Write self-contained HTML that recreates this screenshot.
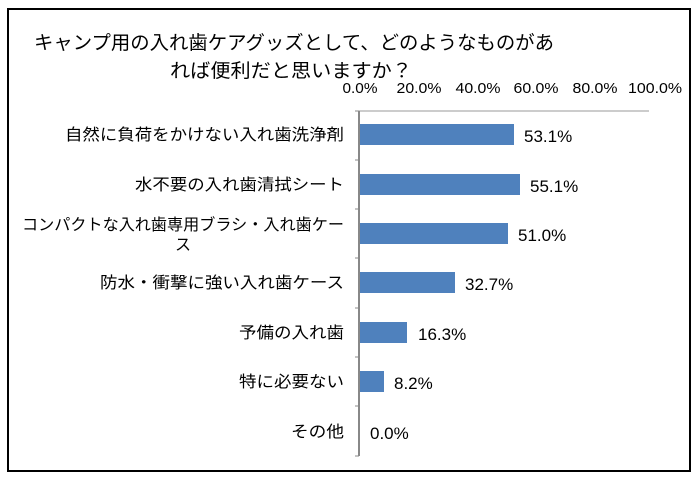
<!DOCTYPE html>
<html><head><meta charset="utf-8"><style>
body{margin:0;background:#fff;}
svg text{font-family:"Liberation Sans","Noto Sans CJK JP",sans-serif;fill:#000;}
</style></head><body>
<svg width="700" height="479" xmlns="http://www.w3.org/2000/svg">
<rect x="8" y="9" width="682" height="462" fill="#fff" stroke="#000" stroke-width="2"/>
<text x="34" y="49" font-size="19" textLength="520" lengthAdjust="spacingAndGlyphs">キャンプ用の入れ歯ケアグッズとして、どのようなものがあ</text>
<text x="170" y="77" font-size="19" textLength="242" lengthAdjust="spacingAndGlyphs">れば便利だと思いますか？</text>
<g font-size="15" text-anchor="middle">
<text x="360" y="93" textLength="35" lengthAdjust="spacingAndGlyphs">0.0%</text>
<text x="419" y="93" textLength="45" lengthAdjust="spacingAndGlyphs">20.0%</text>
<text x="478" y="93" textLength="45" lengthAdjust="spacingAndGlyphs">40.0%</text>
<text x="536" y="93" textLength="45" lengthAdjust="spacingAndGlyphs">60.0%</text>
<text x="595" y="93" textLength="45" lengthAdjust="spacingAndGlyphs">80.0%</text>
<text x="655" y="93" textLength="54" lengthAdjust="spacingAndGlyphs">100.0%</text>
</g>
<line x1="359" y1="111" x2="649" y2="111" stroke="#999" stroke-width="1"/>
<line x1="359" y1="111" x2="359" y2="456" stroke="#888" stroke-width="2"/>
<g stroke="#888" stroke-width="1">
<line x1="355" y1="111" x2="359" y2="111"/><line x1="355" y1="160" x2="359" y2="160"/><line x1="355" y1="209" x2="359" y2="209"/><line x1="355" y1="258" x2="359" y2="258"/><line x1="355" y1="308" x2="359" y2="308"/><line x1="355" y1="357" x2="359" y2="357"/><line x1="355" y1="406" x2="359" y2="406"/><line x1="355" y1="456" x2="359" y2="456"/>
</g>
<g fill="#4f81bd">
<rect x="360" y="124" width="154" height="21"/>
<rect x="360" y="174" width="160" height="21"/>
<rect x="360" y="223" width="148" height="21"/>
<rect x="360" y="272" width="95" height="21"/>
<rect x="360" y="322" width="47" height="21"/>
<rect x="360" y="371" width="24" height="21"/>
</g>
<g font-size="17">
<text x="524" y="142">53.1%</text>
<text x="530" y="192">55.1%</text>
<text x="518" y="241">51.0%</text>
<text x="465" y="290">32.7%</text>
<text x="418" y="340">16.3%</text>
<text x="394" y="389">8.2%</text>
<text x="370" y="439">0.0%</text>
</g>
<g font-size="16" text-anchor="end">
<text x="344" y="140" textLength="279" lengthAdjust="spacingAndGlyphs">自然に負荷をかけない入れ歯洗浄剤</text>
<text x="344" y="190" textLength="209" lengthAdjust="spacingAndGlyphs">水不要の入れ歯清拭シート</text>
<text x="344" y="230" textLength="322" lengthAdjust="spacingAndGlyphs">コンパクトな入れ歯専用ブラシ・入れ歯ケー</text>
<text x="183" y="250" text-anchor="middle">ス</text>
<text x="344" y="288" textLength="244" lengthAdjust="spacingAndGlyphs">防水・衝撃に強い入れ歯ケース</text>
<text x="344" y="338" textLength="105" lengthAdjust="spacingAndGlyphs">予備の入れ歯</text>
<text x="344" y="387" textLength="105" lengthAdjust="spacingAndGlyphs">特に必要ない</text>
<text x="344" y="437" textLength="53" lengthAdjust="spacingAndGlyphs">その他</text>
</g>
</svg>
</body></html>
